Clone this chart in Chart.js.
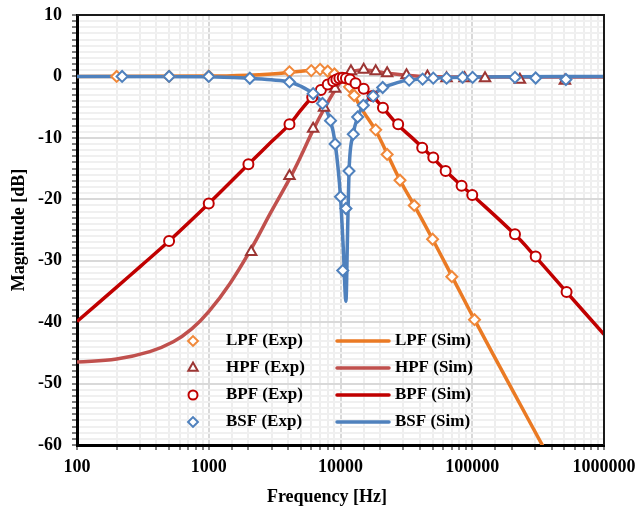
<!DOCTYPE html>
<html>
<head>
<meta charset="UTF-8">
<title>Magnitude vs Frequency</title>
<script src="https://cdn.jsdelivr.net/npm/chart.js"></script>
<style>
  html, body { margin: 0; padding: 0; background: #fff; }
  #wrap { width: 638px; height: 508px; }
</style>
</head>
<body>
<div id="wrap"><canvas id="chart" width="638" height="508"></canvas></div>
<script>
// measured points (Hz, dB)
const lpfExpHz = [200, 500, 1000, 4100, 6000, 7000, 8000, 9000, 11700, 12700, 18500, 22600, 28300, 36300, 50000, 70000, 104000];
const lpfExpDb = [0, 0, 0.05, 0.75, 0.95, 1.15, 0.85, 0.4, -1.7, -3.1, -8.7, -12.7, -16.9, -21.0, -26.5, -32.6, -39.6];

const hpfExpHz = [2100, 4100, 6200, 7500, 9100, 12000, 15000, 18500, 22600, 31700, 45700, 63800, 87500, 125000, 230000, 505000];
const hpfExpDb = [-28.6, -16.2, -8.5, -5.1, -2.0, 0.85, 1.1, 0.85, 0.5, 0.2, 0, -0.3, -0.3, -0.3, -0.55, -0.7];

const bpfExpHz = [500, 1000, 2000, 4100, 6100, 7100, 8000, 8800, 9300, 9800, 10400, 11000, 11800, 13000, 15000, 17500, 21000, 27400, 41700, 50600, 62800, 83000, 100000, 211000, 303000, 520000];
const bpfExpDb = [-26.8, -20.7, -14.3, -7.8, -3.4, -2.2, -1.3, -0.8, -0.5, -0.3, -0.2, -0.3, -0.5, -1.1, -2.0, -3.2, -5.1, -7.8, -11.6, -13.2, -15.4, -17.8, -19.3, -25.7, -29.3, -35.1];

const bsfExpHz = [220, 500, 1000, 2050, 4100, 6200, 7300, 8400, 9100, 10000, 10400, 11000, 11600, 12500, 13500, 14900, 17700, 20900, 33200, 42000, 50600, 63900, 84500, 100600, 211000, 303000, 514000];
const bsfExpDb = [0, 0, 0, -0.3, -0.9, -2.8, -4.4, -7.2, -11.0, -19.6, -31.6, -21.5, -15.4, -9.4, -6.6, -4.7, -3.2, -1.8, -0.6, -0.44, -0.28, -0.28, -0.16, -0.16, -0.16, -0.25, -0.5];

// simulated curves (Hz, dB)
const lpfSimHz = [100, 1000, 2000, 3000, 4100, 5000, 6000, 7000, 8000, 9000, 10000, 11000, 12000, 13000, 15000, 18500, 22600, 28300, 36300, 50000, 70000, 104000, 200000, 356000];
const lpfSimDb = [0, 0.05, 0.2, 0.4, 0.65, 0.85, 1.0, 1.1, 0.9, 0.45, -0.3, -1.1, -2.1, -3.5, -5.8, -8.8, -12.6, -16.9, -21.0, -26.5, -32.5, -39.6, -50.9, -60.8];

const hpfSimHz = [100, 200, 357, 538, 743, 1000, 1450, 2120, 2930, 4190, 5000, 6200, 7500, 9100, 10500, 12000, 15000, 18500, 22600, 31700, 45000, 100000, 1000000];
const hpfSimDb = [-46.5, -46.0, -44.8, -43.2, -41.1, -38.3, -33.7, -27.9, -22.3, -16.3, -13.0, -8.7, -5.3, -2.2, -0.4, 0.7, 1.05, 0.85, 0.5, 0.2, 0, -0.1, -0.1];

const bpfSimHz = [100, 200, 300, 500, 1000, 2000, 3000, 4100, 5000, 6000, 7000, 8000, 9000, 10000, 10500, 11000, 12000, 13000, 15000, 17500, 21000, 27000, 35000, 42000, 50000, 63000, 83000, 100000, 210000, 300000, 520000, 1000000];
const bpfSimDb = [-39.9, -34.3, -31.0, -26.8, -20.7, -14.3, -10.6, -7.8, -5.5, -3.5, -2.2, -1.3, -0.7, -0.3, -0.2, -0.3, -0.6, -1.0, -2.0, -3.2, -5.1, -7.8, -10.0, -11.6, -13.2, -15.4, -17.8, -19.3, -25.7, -29.3, -35.1, -42.0];

const bsfSimHz = [100, 1000, 2000, 3000, 4100, 5000, 6200, 7300, 8400, 9100, 10000, 10500, 11000, 11300, 11600, 12500, 13500, 14900, 17700, 20900, 27000, 33200, 50000, 100000, 1000000];
const bsfSimDb = [0, -0.05, -0.3, -0.55, -0.9, -1.6, -2.8, -4.4, -7.2, -10.8, -19.6, -28, -36.6, -26, -15.6, -9.4, -6.6, -4.7, -3.0, -1.9, -1.0, -0.6, -0.3, -0.1, 0];

const seriesNames = ['LPF', 'HPF', 'BPF', 'BSF'];
const lineColors = ['#EA7A24', '#C0504D', '#C00000', '#4F81BD'];
const markColors = ['#F0883A', '#9C3634', '#C00000', '#4F81BD'];
const markStyles = ['rectRot', 'triangle', 'circle', 'rectRot'];
const markSizes = [5.5, 6, 5, 5.5];

const expSets = [[lpfExpHz, lpfExpDb], [hpfExpHz, hpfExpDb], [bpfExpHz, bpfExpDb], [bsfExpHz, bsfExpDb]];
const simSets = [[lpfSimHz, lpfSimDb], [hpfSimHz, hpfSimDb], [bpfSimHz, bpfSimDb], [bsfSimHz, bsfSimDb]];

function pts(hz, db) {
    return hz.map((f, i) => ({ x: f, y: db[i] }));
}

const FONT = '"Liberation Serif", "Times New Roman", serif';
Chart.defaults.font.family = FONT;
Chart.defaults.font.size = 18;
Chart.defaults.font.weight = 'bold';
Chart.defaults.color = '#000';

const datasets = [];
// Exp markers first (drawn on top), BSF on very top
seriesNames.forEach((n, i) => {
    datasets.push({
        label: n + ' (Exp)',
        data: pts(expSets[i][0], expSets[i][1]),
        showLine: false,
        pointStyle: markStyles[i],
        pointRadius: markSizes[i],
        pointBorderWidth: 2,
        pointBorderColor: markColors[i],
        pointBackgroundColor: '#fff',
        order: 4 - i
    });
});
seriesNames.forEach((n, i) => {
    const notch = n === 'BSF';
    datasets.push({
        label: n + ' (Sim)',
        data: pts(simSets[i][0], simSets[i][1]),
        showLine: true,
        borderColor: lineColors[i],
        borderWidth: 3.5,
        pointRadius: 0,
        cubicInterpolationMode: notch ? 'monotone' : 'default',
        tension: notch ? 0 : 0.4,
        clip: 0,
        order: 9 - i
    });
});

function isDecade(v) {
    const l = Math.log10(v);
    return Math.abs(l - Math.round(l)) < 1e-9;
}

// legend inside plot + top/right frame + x title
const extras = {
    id: 'extras',
    afterDatasetsDraw(chart) {
        const ctx = chart.ctx;
        const a = chart.chartArea;
        ctx.save();
        ctx.strokeStyle = '#1a1a1a';
        ctx.lineWidth = 2;
        ctx.beginPath();
        ctx.moveTo(a.left, a.top);
        ctx.lineTo(a.right, a.top);
        ctx.lineTo(a.right, a.bottom);
        ctx.stroke();

        ctx.font = 'bold 17px ' + FONT;
        ctx.textBaseline = 'middle';
        ctx.textAlign = 'left';
        for (let i = 0; i < 4; i++) {
            const y = 341 + i * 27;
            const e = chart.data.datasets[i];
            const s = chart.data.datasets[i + 4];
            ctx.fillStyle = '#fff';
            ctx.strokeStyle = e.pointBorderColor;
            ctx.lineWidth = 2;
            Chart.helpers.drawPoint(ctx, { pointStyle: e.pointStyle, radius: e.pointRadius * 0.9, borderWidth: 2, rotation: 0 }, 193, y);
            ctx.fillStyle = '#000';
            ctx.fillText(e.label, 226, y);

            ctx.strokeStyle = s.borderColor;
            ctx.lineWidth = 3.5;
            ctx.lineCap = 'round';
            ctx.beginPath();
            ctx.moveTo(337, y);
            ctx.lineTo(389, y);
            ctx.stroke();
            ctx.fillText(s.label, 395, y);
        }

        ctx.font = 'bold 18px ' + FONT;
        ctx.textAlign = 'center';
        ctx.fillText('Frequency [Hz]', 327, 497);
        ctx.restore();
    }
};

new Chart(document.getElementById('chart'), {
    type: 'scatter',
    data: { datasets: datasets },
    options: {
        responsive: false,
        animation: false,
        layout: { padding: { top: 15, right: 34, left: 0, bottom: 0 } },
        plugins: { legend: { display: false }, tooltip: { enabled: false } },
        scales: {
            x: {
                type: 'logarithmic',
                min: 100,
                max: 1000000,
                afterFit(scale) {
                    scale.height = 63;
                    scale.paddingLeft = 0;
                    scale.paddingRight = 0;
                },
                border: { color: '#000', width: 3 },
                grid: {
                    color: c => (c.tick && isDecade(c.tick.value)) ? '#D9D9D9' : '#EEEEEE',
                    lineWidth: 2,
                    tickColor: '#000',
                    tickWidth: 1,
                    tickLength: 5
                },
                ticks: {
                    autoSkip: false,
                    maxRotation: 0,
                    padding: 7,
                    callback: v => isDecade(v) ? String(Math.round(v)) : ''
                }
            },
            y: {
                min: -60,
                max: 10,
                afterFit(scale) {
                    scale.width = 77;
                    scale.paddingTop = 0;
                    scale.paddingBottom = 0;
                },
                border: { color: '#000', width: 3 },
                grid: {
                    color: c => (c.tick && c.tick.value % 10 === 0) ? '#D9D9D9' : '#F0F0F0',
                    lineWidth: 2,
                    tickColor: '#000',
                    tickWidth: 1,
                    tickLength: 5
                },
                ticks: {
                    stepSize: 1,
                    autoSkip: false,
                    padding: 10,
                    callback: v => (v % 10 === 0) ? String(v) : ''
                },
                title: {
                    display: true,
                    text: 'Magnitude [dB]',
                    padding: { top: 9, bottom: 0 }
                }
            }
        }
    },
    plugins: [extras]
});
</script>
</body>
</html>
